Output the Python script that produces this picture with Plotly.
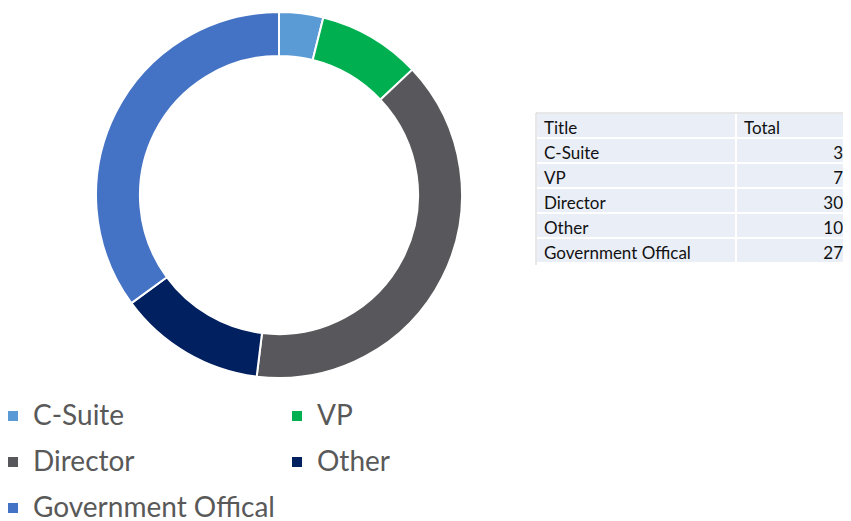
import plotly.graph_objects as go

titles = ["C-Suite", "VP", "Director", "Other", "Government Offical"]
totals = [3, 7, 30, 10, 27]
colors = ["#5B9BD5", "#00B050", "#58575B", "#002060", "#4472C4"]

# page body has an 8px margin, so the figure fills the rest of the window
W, H = 843, 513

legend_labels = ["<span style='font-size:28px;baseline-shift:4px'>%s</span>" % t for t in titles]

fig = go.Figure()

fig.add_trace(go.Pie(
    labels=legend_labels,
    values=totals,
    hole=0.76,
    sort=False,
    direction="clockwise",
    rotation=0,
    textinfo="none",
    hoverinfo="value",
    marker=dict(colors=colors, line=dict(color="white", width=2)),
    domain=dict(x=[88 / W, 454 / W], y=[(H - 370) / H, (H - 4) / H]),
    showlegend=True,
))

fig.add_trace(go.Table(
    domain=dict(x=[528 / W, 1.0], y=[(H - 257) / H, (H - 105) / H]),
    columnwidth=[200, 115],
    header=dict(
        values=["Title", "Total"],
        align=["left", "left"],
        fill_color="#E9EEF7",
        line=dict(color="white", width=2),
        font=dict(family="Lato", size=17, color="#111111"),
        height=25,
    ),
    cells=dict(
        values=[titles, totals],
        align=["left", "right"],
        fill_color="#E9EEF7",
        line=dict(color="white", width=2),
        font=dict(family="Lato", size=17, color="#111111"),
        height=25,
    ),
))

fig.add_shape(type="line", xref="paper", yref="paper",
              x0=528 / W, x1=1.0, y0=(H - 105) / H, y1=(H - 105) / H,
              line=dict(color="#D0D0D0", width=1))
fig.add_shape(type="line", xref="paper", yref="paper",
              x0=528 / W, x1=528 / W, y0=(H - 105) / H, y1=(H - 257) / H,
              line=dict(color="#D0D0D0", width=1))

fig.update_layout(
    width=W, height=H,
    margin=dict(l=0, r=0, t=0, b=0, autoexpand=False),
    paper_bgcolor="white",
    plot_bgcolor="white",
    legend=dict(
        orientation="h",
        x=0, y=(H - 380) / H,
        xanchor="left", yanchor="top",
        indentation=-15,
        entrywidth=254, entrywidthmode="pixels",
        font=dict(family="Lato", size=33.1, color="#595959"),
    ),
)

fig.write_html("out.html")
